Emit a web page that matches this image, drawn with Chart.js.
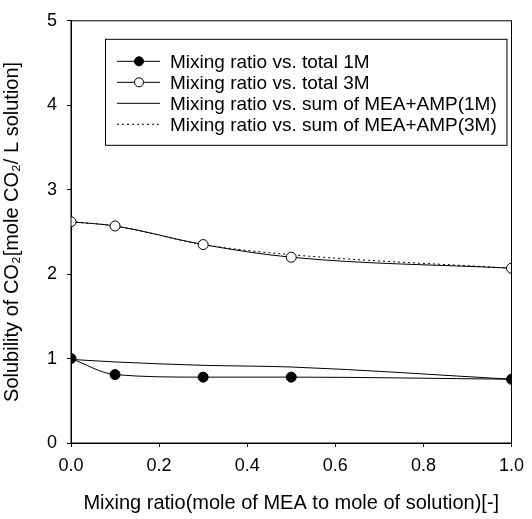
<!DOCTYPE html>
<html>
<head>
<meta charset="utf-8">
<script src="https://cdn.jsdelivr.net/npm/chart.js@4.4.1/dist/chart.umd.min.js"></script>
<style>
    html, body { margin: 0; padding: 0; background: #fff; }
</style>
</head>
<body>
<canvas id="chart" width="532" height="519"></canvas>
<script>
// === data ===
const mixRatio = [0.0, 0.1, 0.3, 0.5, 1.0];
const total1M = [1.00, 0.81, 0.78, 0.78, 0.755];
const total3M = [2.62, 2.57, 2.35, 2.20, 2.07];
const sum1M = [0.99, 0.96, 0.92, 0.90, 0.755];
const sum3M = [2.62, 2.57, 2.35, 2.23, 2.07];
const seriesLabels = [
    "Mixing ratio vs. total 1M",
    "Mixing ratio vs. total 3M",
    "Mixing ratio vs. sum of MEA+AMP(1M)",
    "Mixing ratio vs. sum of MEA+AMP(3M)",
];
const xTicks = [0, 0.2, 0.4, 0.6, 0.8, 1.0];
const yTicks = [0, 1, 2, 3, 4, 5];

const FONT = "'Liberation Sans', Arial, sans-serif";
const points = (ys) => mixRatio.map((x, i) => ({ x: x, y: ys[i] }));

// === frame around the plot ===
const frame = {
    id: "frame",
    afterDatasetsDraw(chart) {
        const { ctx, chartArea: a } = chart;
        ctx.save();
        ctx.strokeStyle = "#000";
        ctx.lineWidth = 1;
        ctx.strokeRect(a.left, a.top, a.right - a.left, a.bottom - a.top);
        ctx.restore();
    },
};

// === legend box inside the plot ===
const boxLegend = {
    id: "boxLegend",
    afterDraw(chart) {
        const { ctx, chartArea: a } = chart;
        const left = a.left + 34, top = a.top + 18, right = a.right - 5;
        const rowH = 21;
        ctx.save();
        ctx.fillStyle = "#fff";
        ctx.fillRect(left, top, right - left, 106);
        ctx.strokeStyle = "#000";
        ctx.lineWidth = 1;
        ctx.strokeRect(left + 0.5, top + 0.5, right - left, 106);
        ctx.font = "19px " + FONT;
        ctx.textBaseline = "middle";
        chart.data.datasets.forEach((ds, i) => {
            const y = top + 22 + i * rowH + 0.5;
            ctx.strokeStyle = "#000";
            ctx.lineWidth = 1;
            ctx.setLineDash(ds.borderDash || []);
            ctx.beginPath();
            ctx.moveTo(left + 12, y);
            ctx.lineTo(left + 55, y);
            ctx.stroke();
            ctx.setLineDash([]);
            if (ds.pointRadius > 0) {
                ctx.beginPath();
                ctx.arc(left + 34, y, 4.5, 0, Math.PI * 2);
                ctx.fillStyle = ds.pointBackgroundColor;
                ctx.fill();
                ctx.stroke();
            }
            ctx.fillStyle = "#000";
            ctx.fillText(ds.label, left + 65, y + 1);
        });
        ctx.restore();
    },
};

const ctx = document.getElementById("chart").getContext("2d");
new Chart(ctx, {
    type: "scatter",
    data: {
        datasets: [
            {
                label: seriesLabels[0],
                data: points(total1M),
                showLine: true,
                borderColor: "#000",
                borderWidth: 1,
                pointRadius: 5,
                pointBackgroundColor: "#000",
                pointBorderColor: "#000",
                cubicInterpolationMode: "monotone",
            },
            {
                label: seriesLabels[1],
                data: points(total3M),
                showLine: true,
                borderColor: "#000",
                borderWidth: 1,
                pointRadius: 5,
                pointBackgroundColor: "#fff",
                pointBorderColor: "#000",
                pointBorderWidth: 1,
                cubicInterpolationMode: "monotone",
            },
            {
                label: seriesLabels[2],
                data: points(sum1M),
                showLine: true,
                borderColor: "#000",
                borderWidth: 1,
                pointRadius: 0,
                cubicInterpolationMode: "monotone",
            },
            {
                label: seriesLabels[3],
                data: points(sum3M),
                showLine: true,
                borderColor: "#000",
                borderWidth: 1,
                borderDash: [2, 3],
                pointRadius: 0,
                cubicInterpolationMode: "monotone",
            },
        ],
    },
    options: {
        responsive: false,
        animation: false,
        layout: { padding: { left: 0, right: 12, top: 17, bottom: 0 } },
        plugins: {
            legend: { display: false },
            tooltip: { enabled: false },
        },
        scales: {
            x: {
                type: "linear",
                min: 0,
                max: 1,
                afterBuildTicks: (s) => { s.ticks = xTicks.map((v) => ({ value: v })); },
                afterFit: (s) => { s.height = 76; },
                ticks: {
                    color: "#000",
                    font: { family: FONT, size: 18 },
                    padding: 8,
                    maxRotation: 0,
                    callback: (v) => Number(v).toFixed(1),
                },
                grid: { drawOnChartArea: false, color: "#000", tickLength: 4 },
                border: { color: "#000" },
                title: {
                    display: true,
                    text: "Mixing ratio(mole of MEA to mole of solution)[-]",
                    color: "#000",
                    font: { family: FONT, size: 20 },
                    padding: { top: 4 },
                },
            },
            y: {
                type: "linear",
                min: 0,
                max: 5,
                afterBuildTicks: (s) => { s.ticks = yTicks.map((v) => ({ value: v })); },
                afterFit: (s) => { s.width = 71; },
                ticks: {
                    color: "#000",
                    font: { family: FONT, size: 18 },
                    padding: 10,
                },
                grid: { drawOnChartArea: false, color: "#000", tickLength: 4 },
                border: { color: "#000" },
                title: {
                    display: true,
                    text: "Solubility of CO₂[mole CO₂/ L solution]",
                    color: "#000",
                    font: { family: FONT, size: 20 },
                    padding: { top: 0, bottom: 0 },
                },
            },
        },
    },
    plugins: [frame, boxLegend],
});
</script>
</body>
</html>
